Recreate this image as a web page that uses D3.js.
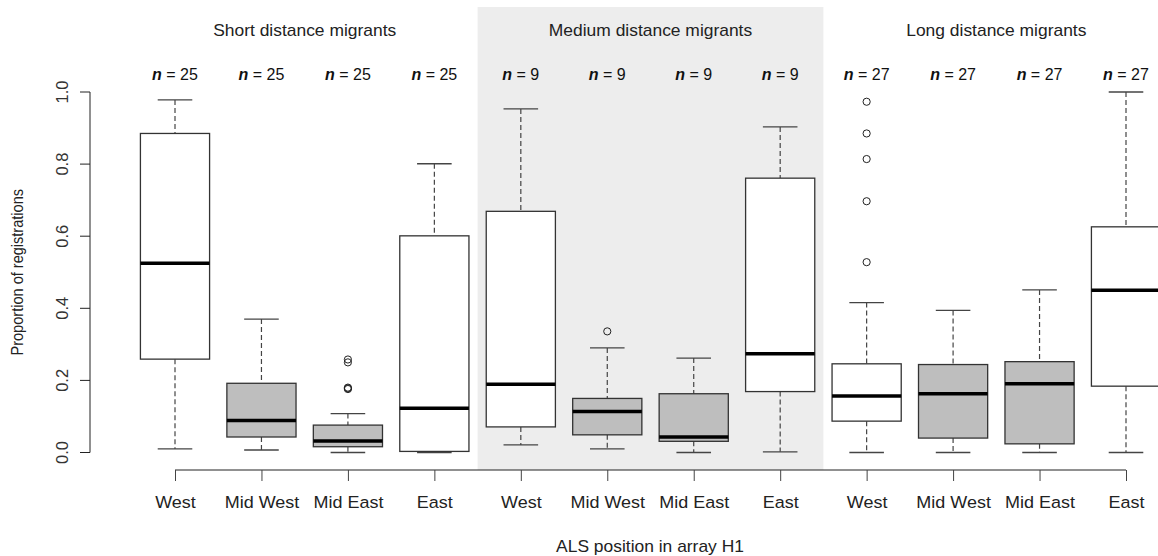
<!DOCTYPE html>
<html>
<head>
<meta charset="utf-8">
<script src="https://cdn.jsdelivr.net/npm/d3@7"></script>
<style>
  body { margin: 0; background: #fff; }
  svg { display: block; font-family: "Liberation Sans", Arial, sans-serif; }
</style>
</head>
<body>
<svg id="chart" width="1158" height="556"></svg>
<script>
var groups = ["Short distance migrants", "Medium distance migrants", "Long distance migrants"]
var positions = ["West", "Mid West", "Mid East", "East"]
var counts = [25, 25, 25, 25, 9, 9, 9, 9, 27, 27, 27, 27]

// five-number summaries
var lowWhisker = [0.010, 0.007, 0.000, 0.000, 0.021, 0.010, 0.000, 0.002, 0.000, 0.000, 0.000, 0.000]
var lowerQuart = [0.259, 0.043, 0.016, 0.003, 0.071, 0.049, 0.031, 0.169, 0.087, 0.040, 0.024, 0.184]
var medians    = [0.525, 0.089, 0.032, 0.123, 0.189, 0.114, 0.043, 0.274, 0.157, 0.163, 0.191, 0.450]
var upperQuart = [0.885, 0.192, 0.076, 0.601, 0.669, 0.150, 0.163, 0.761, 0.246, 0.244, 0.252, 0.626]
var highWhisker = [0.978, 0.370, 0.108, 0.801, 0.953, 0.290, 0.262, 0.903, 0.416, 0.394, 0.451, 1.000]

// outliers as [box index, value]
var outliers = [
    [2, 0.258], [2, 0.250], [2, 0.178], [2, 0.176], [2, 0.180],
    [5, 0.336],
    [8, 0.973], [8, 0.885], [8, 0.814], [8, 0.697], [8, 0.528]
]

var yTicks = [0, 0.2, 0.4, 0.6, 0.8, 1.0]

var svg = d3.select("#chart")

var x = d3.scaleLinear().domain([1, 12]).range([175, 1126])
var y = d3.scaleLinear().domain([0, 1]).range([452.5, 92])
var step = x(2) - x(1)
var halfBox = 0.4 * step

// the original text is a little stretched sideways
var stretch = 1.09

var boxes = d3.range(12).map(function(i) {
    return {
        i: i,
        label: positions[i % 4],
        n: counts[i],
        lo: lowWhisker[i], q1: lowerQuart[i], med: medians[i],
        q3: upperQuart[i], hi: highWhisker[i],
        fill: (i % 4 === 1 || i % 4 === 2) ? "#bebebe" : "#ffffff"
    }
})

// shaded middle group
svg.append("rect")
    .attr("x", x(4.5))
    .attr("y", 7)
    .attr("width", x(8.5) - x(4.5))
    .attr("height", 470 - 7)
    .attr("fill", "#ededed")

// group titles
svg.append("g").selectAll("text")
    .data(groups)
    .enter().append("text")
    .attr("transform", function(d, i) { return "translate(" + x(i * 4 + 2.5) + ",36) scale(" + stretch + ",1)" })
    .attr("text-anchor", "middle")
    .attr("font-size", 16)
    .attr("fill", "#222")
    .text(function(d) { return d })

// n labels
var nText = svg.append("g").selectAll("text")
    .data(boxes)
    .enter().append("text")
    .attr("x", function(d) { return x(d.i + 1) })
    .attr("y", 80)
    .attr("text-anchor", "middle")
    .attr("font-size", 16)
    .attr("fill", "#111")
nText.append("tspan").attr("font-weight", "bold").attr("font-style", "italic").text("n")
nText.append("tspan").text(function(d) { return " = " + d.n })

// y axis
var yAxis = d3.axisLeft(y).tickValues(yTicks).tickSize(10).tickFormat(d3.format(".1f"))
var yg = svg.append("g")
    .attr("transform", "translate(90,0)")
    .call(yAxis)
yg.select(".domain").attr("d", "M0," + y(0) + "V" + y(1)).attr("stroke", "#222")
yg.selectAll(".tick line").attr("stroke", "#222")
yg.selectAll(".tick text")
    .attr("font-size", 16.5)
    .attr("fill", "#333")
    .attr("font-family", "Liberation Sans, Arial, sans-serif")
    .attr("transform", function(d) { return "translate(-28," + (y(d)) + ") rotate(-90)" })
    .attr("x", 0).attr("y", 0).attr("dy", "0.35em")
    .attr("text-anchor", "middle")
yg.selectAll(".tick").attr("transform", "translate(0,0)")
yg.selectAll(".tick line").attr("y1", function(d) { return y(d) }).attr("y2", function(d) { return y(d) })

// x axis
var xAxis = d3.axisBottom(x).tickValues(d3.range(1, 13)).tickSize(11)
    .tickFormat(function(d) { return positions[(d - 1) % 4] })
var xg = svg.append("g")
    .attr("transform", "translate(0,470)")
    .call(xAxis)
xg.select(".domain").attr("d", "M" + x(1) + ",0H" + x(12)).attr("stroke", "#222")
xg.selectAll(".tick line").attr("stroke", "#444")
xg.selectAll(".tick text")
    .attr("font-size", 16.5)
    .attr("fill", "#222")
    .attr("font-family", "Liberation Sans, Arial, sans-serif")
    .attr("y", 0).attr("dy", 0)
    .attr("transform", "translate(0,38) scale(" + stretch + ",1)")

// axis titles
svg.append("text")
    .attr("transform", "translate(650,552) scale(" + stretch + ",1)")
    .attr("text-anchor", "middle")
    .attr("font-size", 16)
    .attr("fill", "#222")
    .text("ALS position in array H1")
svg.append("text")
    .attr("transform", "translate(23," + ((y(0) + y(1)) / 2) + ") rotate(-90) scale(0.91,1)")
    .attr("text-anchor", "middle")
    .attr("font-size", 16)
    .attr("fill", "#222")
    .text("Proportion of registrations")

// boxes
var bg = svg.append("g").selectAll("g")
    .data(boxes)
    .enter().append("g")

bg.append("line")
    .attr("x1", function(d) { return x(d.i + 1) })
    .attr("x2", function(d) { return x(d.i + 1) })
    .attr("y1", function(d) { return y(d.hi) })
    .attr("y2", function(d) { return y(d.q3) })
    .attr("stroke", "#444").attr("stroke-width", 1.2).attr("stroke-dasharray", "5,3")
bg.append("line")
    .attr("x1", function(d) { return x(d.i + 1) })
    .attr("x2", function(d) { return x(d.i + 1) })
    .attr("y1", function(d) { return y(d.q1) })
    .attr("y2", function(d) { return y(d.lo) })
    .attr("stroke", "#444").attr("stroke-width", 1.2).attr("stroke-dasharray", "5,3")

bg.selectAll(".cap")
    .data(function(d) { return [{i: d.i, v: d.hi}, {i: d.i, v: d.lo}] })
    .enter().append("line")
    .attr("class", "cap")
    .attr("x1", function(d) { return x(d.i + 1) - halfBox / 2 })
    .attr("x2", function(d) { return x(d.i + 1) + halfBox / 2 })
    .attr("y1", function(d) { return y(d.v) })
    .attr("y2", function(d) { return y(d.v) })
    .attr("stroke", "#444").attr("stroke-width", 1.3)

bg.append("rect")
    .attr("x", function(d) { return x(d.i + 1) - halfBox })
    .attr("y", function(d) { return y(d.q3) })
    .attr("width", 2 * halfBox)
    .attr("height", function(d) { return y(d.q1) - y(d.q3) })
    .attr("fill", function(d) { return d.fill })
    .attr("stroke", "#333").attr("stroke-width", 1.3)

bg.append("line")
    .attr("x1", function(d) { return x(d.i + 1) - halfBox })
    .attr("x2", function(d) { return x(d.i + 1) + halfBox })
    .attr("y1", function(d) { return y(d.med) })
    .attr("y2", function(d) { return y(d.med) })
    .attr("stroke", "#000").attr("stroke-width", 3.5)

// outliers
svg.append("g").selectAll("circle")
    .data(outliers)
    .enter().append("circle")
    .attr("cx", function(d) { return x(d[0] + 1) })
    .attr("cy", function(d) { return y(d[1]) })
    .attr("r", 3.6)
    .attr("fill", "none")
    .attr("stroke", "#222")
    .attr("stroke-width", 1)
</script>
</body>
</html>
